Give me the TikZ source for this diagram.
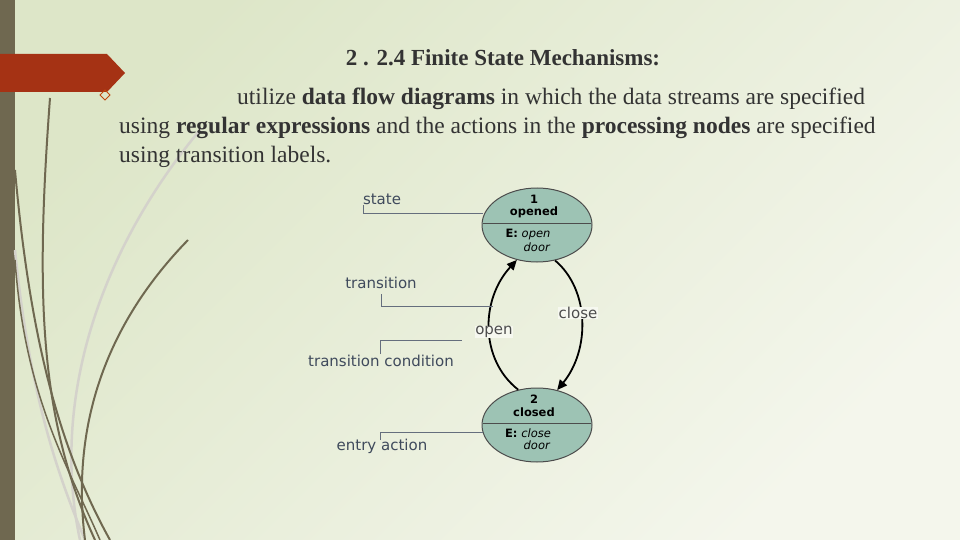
\documentclass[tikz,border=0pt]{standalone}
\usepackage{fontspec}
\setmainfont{Liberation Serif}
\newfontfamily\dv{DejaVu Sans}
\usetikzlibrary{arrows.meta,shapes.geometric}
\definecolor{bgA}{HTML}{F4F6EC}
\definecolor{bgB}{HTML}{DDE6C8}
\definecolor{olive}{HTML}{6F6850}
\definecolor{banner}{HTML}{A53214}
\definecolor{stfill}{HTML}{9DC3B4}
\definecolor{lbl}{HTML}{3F4A5C}
\tikzset{
  stateell/.style={draw=black!70,line width=1pt,fill=stfill,ellipse,minimum width=110pt,minimum height=74pt},
  lead/.style={draw=lbl!80,line width=0.9pt},
  lbltext/.style={font=\dv\fontsize{15}{17}\selectfont,text=lbl},
  sttext/.style={font=\dv\fontsize{11.5}{13}\selectfont,inner sep=0},
  trans/.style={draw=black,line width=1.8pt,-{Triangle[length=10pt,width=9pt]}},
  deco/.style={draw=olive,line width=2pt},
  decol/.style={draw=olive!30,line width=2.5pt}
}
\begin{document}
\begin{tikzpicture}[x=1pt,y=-1pt]
\useasboundingbox (0,0) rectangle (960,540);
\shade[left color=bgB,right color=bgA,shading angle=45] (0,0) rectangle (960,540);
\fill[olive] (0,0) rectangle (15,540);
% decorative curves
\draw[decol] (15,250) .. controls (30,400) and (60,480) .. (85,540);
\draw[decol] (200,130) .. controls (100,250) and (50,400) .. (80,540);
\draw[deco] (50,98) .. controls (35,300) and (40,420) .. (95,540);
\draw[deco] (15,170) .. controls (30,340) and (60,450) .. (110,540);
\draw[deco] (188,240) .. controls (110,320) and (70,420) .. (85,540);
\draw[deco,line width=1.5pt] (15,260) .. controls (25,400) and (70,470) .. (100,540);
% banner
\fill[banner] (0,54) -- (107,54) -- (125,73) -- (107,92) -- (0,92) -- cycle;
\draw[banner!70!orange,line width=0.8pt] (100,95) -- (105,90) -- (110,95) -- (105,100) -- cycle;
% text
\node[font=\fontsize{23}{27}\selectfont\bfseries,text=black!80] (title) at (503,58) {2 . 2.4 Finite State Mechanisms:};
\node[font=\fontsize{23.5}{29}\selectfont,text=black!80,anchor=north west,align=left,inner sep=0] (body) at (119,88)
 {\hspace{118pt}utilize \textbf{data flow diagrams} in which the data streams are specified\\
  using \textbf{regular expressions} and the actions in the \textbf{processing nodes} are specified\\
  using transition labels.};
% states
\node[stateell] (s1) at (537,225) {};
\node[stateell] (s2) at (537,425) {};
\draw[black!70,line width=0.8pt] (483,223) -- (591,223);
\draw[black!70,line width=0.8pt] (483,423) -- (591,423);
\node[sttext] (n1) at (534,199) {\textbf{1}};
\node[sttext] (o1) at (534,212) {\textbf{opened}};
\node[sttext] (e1) at (528,235) {\textbf{E:} \textit{open}};
\node[sttext] (d1) at (537,247) {\textit{door}};
\node[sttext] (n2) at (534,399) {\textbf{2}};
\node[sttext] (o2) at (534,412) {\textbf{closed}};
\node[sttext] (e2) at (528,433) {\textbf{E:} \textit{close}};
\node[sttext] (d2) at (537,445) {\textit{door}};
% transitions
\draw[trans] (s2.118) .. controls (480,360) and (480,300) .. (s1.240);
\draw[trans] (s1.297) .. controls (590,290) and (590,350) .. (s2.60);
\node[lbltext,text=black!70,fill=bgA!80,inner sep=0.5pt] (lo) at (494,332) {open};
\node[lbltext,text=black!70,fill=bgA!80,inner sep=0.5pt] (lc) at (578,313) {close};
% labels
\node[lbltext] (ls) at (382,199) {state};
\node[lbltext] (lt) at (381,283) {transition};
\node[lbltext] (ltc) at (381,361) {transition condition};
\node[lbltext] (le) at (382,446) {entry action};
\coordinate (cs) at (483,213);
\coordinate (ct) at (493,306);
\coordinate (ctc) at (462,340);
\coordinate (ce) at (483,432);
\draw[lead] (363,205) |- (cs);
\draw[lead] (381,294) |- (ct);
\draw[lead] (380,354) |- (ctc);
\draw[lead] (380,440) |- (ce);
\end{tikzpicture}
\end{document}
